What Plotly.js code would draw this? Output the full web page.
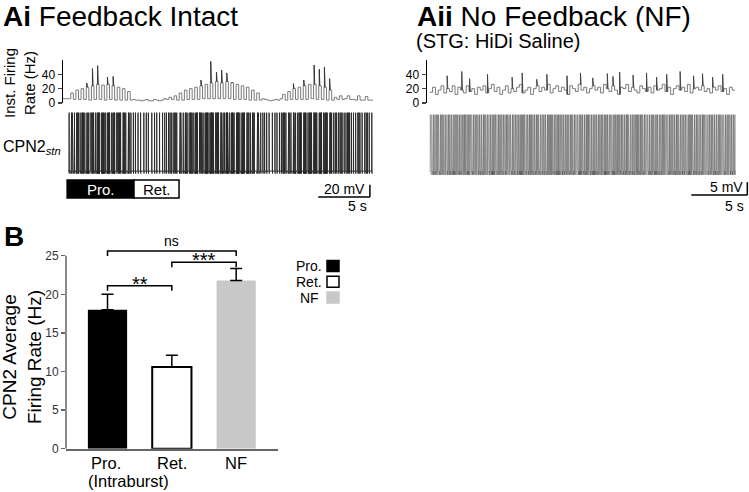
<!DOCTYPE html>
<html><head><meta charset="utf-8">
<script src="https://cdn.plot.ly/plotly-3.0.1.min.js"></script>
<style>html,body{margin:0;padding:0;background:#fff;}#chart{width:749px;height:492px;}</style>
</head><body><div id="chart"></div>
<script>
// ---------- DATA ----------
// Instantaneous firing rate (Hz), one value per 0.25 s step
const rateStep = 0.25;
const aiRateStart = 0;
const aiRate = [6, 6, 6,
  14, 5, 18, 5, 20, 5, 22, 4, 24, 5, 26, 5, 25, 4, 26, 5, 24, 4, 22, 4, 20, 4, 16, 4,
  5, 4, 4, 3, 4, 5, 3, 3, 5, 4, 3, 4, 6, 5, 8, 5,
  10, 4, 14, 4, 18, 5, 20, 5, 22, 5, 24, 6, 26, 6, 28, 6, 30, 6, 28, 6, 30, 6, 28, 5, 26, 5, 24, 5, 22, 4, 18, 4, 14, 4,
  6, 5, 4, 3, 4, 5, 4, 6,
  12, 4, 16, 5, 20, 5, 22, 5, 24, 5, 26, 6, 26, 5, 24, 5, 22, 4, 18, 4,
  8, 5, 10, 5, 6, 10, 5, 5, 4, 10, 4, 4, 9, 4, 4];
const aiPeakT  = [2.3, 2.85, 3.35, 4.3, 4.85, 13.35, 14.3, 14.85, 15.35, 15.85, 16.35, 22.3, 23.3, 24.3, 24.8, 25.3, 25.8];
const aiPeakHz = [28, 48, 52, 36, 37, 32, 58, 43, 46, 42, 29, 27, 32, 53, 47, 50, 34];

const aiiRateStart = 0.25;
const aiiRate = [15, 22, 12, 18, 24, 14, 20, 16, 24, 12, 22, 18, 14, 24, 16, 20, 12, 22, 18, 24,
  14, 20, 26, 16, 22, 12, 18, 24, 14, 20, 16, 22, 26, 14, 18, 22, 12, 20, 24,
  16, 22, 18, 26, 14, 20, 24, 16, 22, 18, 12, 24, 20, 16, 26, 18, 22, 14, 20, 24,
  18, 22, 14, 26, 20, 16, 24, 18, 12, 22, 20, 26, 16, 22, 18, 14, 24, 20, 16, 22,
  14, 24, 18, 20, 26, 16, 22, 12, 20, 24, 18, 22, 16, 26, 14, 20, 22, 18, 24, 16,
  20, 14, 22, 18, 24, 16, 20, 12, 22, 18];
const aiiPeakT  = [1.8, 3.1, 3.8, 5.4, 7.6, 8.5, 9.8, 10.7, 12.5, 13.7, 14.8, 16.1, 16.6, 17.2, 18.4, 19.6, 20.5, 21.4, 22.6, 23.8, 24.6, 25.5, 26.4];
const aiiPeakHz = [38, 44, 34, 40, 36, 42, 33, 40, 38, 42, 35, 41, 37, 43, 39, 42, 36, 40, 44, 38, 41, 36, 40];

// Protraction / retraction phase bar (s)
const phaseNames = ['Pro.', 'Ret.'];
const phaseStart = [0.4, 6.87];
const phaseEnd   = [6.87, 11.23];

// Panel B
const barCats = ['Pro.', 'Ret.', 'NF'];
const barNote = '(Intraburst)';
const barMean = [18.0, 10.6, 21.8];
const barSem  = [2.0, 1.5, 1.55];
const sigFrom = [0, 1, 0];
const sigTo   = [2, 2, 1];
const sigY    = [25.6, 24.15, 21.1];
const sigText = ['ns', '***', '**'];
const legendNames = ['Pro.', 'Ret.', 'NF'];

// ---------- HELPERS ----------
const FONT = 'Arial, "Liberation Sans", sans-serif';
const W = 749, H = 492;
const px = x => x / W, py = y => 1 - y / H;

function stepXY(rate, t0, dt) {
  const x = [], y = [];
  rate.forEach((r, i) => { x.push(t0 + i * dt); y.push(r); });
  x.push(t0 + rate.length * dt); y.push(rate[rate.length - 1]);
  return {x, y};
}
function rateAt(rate, t0, dt, t) {
  return rate[Math.min(rate.length - 1, Math.max(0, Math.floor((t - t0) / dt)))];
}
function peaksXY(pt, ph, rate, t0, dt) {
  const x = [], y = [];
  pt.forEach((t, i) => {
    const b = rateAt(rate, t0, dt, t);
    x.push(t, t, t + 0.06, null); y.push(b, ph[i], b, null);
  });
  return {x, y};
}
// spike times implied by the instantaneous rate (1/ISI)
function spikesFromRate(rate, t0, dt) {
  const times = []; let phase = 0.5;
  rate.forEach((r, i) => {
    const n0 = phase; phase += r * dt;
    for (let k = Math.ceil(n0); k < phase; k++) times.push(t0 + i * dt + (k - n0) / r);
  });
  return times;
}
function voltageXY(spikes, tS, tE, base, peak, under) {
  const s = spikes.filter(t => t >= tS && t <= tE);
  const x = [s[0] - 0.1], y = [base];
  s.forEach(t => {
    x.push(t, t + 0.01, t + 0.025, t + 0.045); y.push(base, peak, under, base);
  });
  x.push(Math.min(tE, s[s.length - 1] + 0.1)); y.push(base);
  return {x, y};
}

// ---------- TRACES ----------
const aiStep = stepXY(aiRate, aiRateStart, rateStep);
const aiPk = peaksXY(aiPeakT, aiPeakHz, aiRate, aiRateStart, rateStep);
const aiV = voltageXY(spikesFromRate(aiRate, aiRateStart, rateStep), 0.5, 29.9, -60, 35, -64);
const aiiStep = stepXY(aiiRate, aiiRateStart, rateStep);
const aiiPk = peaksXY(aiiPeakT, aiiPeakHz, aiiRate, aiiRateStart, rateStep);
const aiiV = voltageXY(spikesFromRate(aiiRate, aiiRateStart, rateStep), 0.0, 28.6, -48, -26.2, -49.5);

const traces = [
  {x: aiStep.x, y: aiStep.y, xaxis: 'x', yaxis: 'y', type: 'scatter', mode: 'lines', line: {shape: 'hv', color: '#7a7a7a', width: 1}, hoverinfo: 'skip'},
  {x: aiPk.x, y: aiPk.y, xaxis: 'x', yaxis: 'y', type: 'scatter', mode: 'lines', line: {color: '#333', width: 1}, hoverinfo: 'skip'},
  {x: aiV.x, y: aiV.y, xaxis: 'x', yaxis: 'y2', type: 'scatter', mode: 'lines', line: {color: '#262626', width: 0.9}, hoverinfo: 'skip'},
  {x: aiiStep.x, y: aiiStep.y, xaxis: 'x3', yaxis: 'y3', type: 'scatter', mode: 'lines', line: {shape: 'hv', color: '#7a7a7a', width: 1}, hoverinfo: 'skip'},
  {x: aiiPk.x, y: aiiPk.y, xaxis: 'x3', yaxis: 'y3', type: 'scatter', mode: 'lines', line: {color: '#444', width: 1}, hoverinfo: 'skip'},
  {x: aiiV.x, y: aiiV.y, xaxis: 'x3', yaxis: 'y4', type: 'scatter', mode: 'lines', line: {color: '#555', width: 0.45}, hoverinfo: 'skip'},
  {type: 'bar', x: [0, 1, 2], y: barMean, width: 0.61, xaxis: 'x5', yaxis: 'y5',
   marker: {color: ['#000000', '#ffffff', '#c8c8c8'], line: {color: '#000', width: [0, 2, 0]}},
   error_y: {type: 'data', symmetric: false, array: barSem, arrayminus: [0, 0, 0], color: '#000', thickness: 1.5, width: 6}}
];
// significance brackets
const bx = [], by = [];
sigFrom.forEach((a, i) => {
  const b = sigTo[i], y = sigY[i];
  bx.push(a, a, b, b, null); by.push(y - 0.65, y, y, y - 0.65, null);
});
traces.push({x: bx, y: by, xaxis: 'x5', yaxis: 'y5', type: 'scatter', mode: 'lines', line: {color: '#000', width: 1.5}, hoverinfo: 'skip'});

// ---------- LAYOUT ----------
const hidden = {visible: false, fixedrange: true};
const rateAxis = (dom, anchor) => ({domain: dom, anchor: anchor, range: [0, 60], tickvals: [0, 20, 40], ticks: 'outside', ticklen: 4, tickwidth: 1.5,
  showline: true, linewidth: 1.5, linecolor: '#000', showgrid: false, zeroline: false, tickfont: {size: 12, color: '#000'}, fixedrange: true});
const layout = {
  width: W, height: H, autosize: false, showlegend: false,
  margin: {l: 0, r: 0, t: 0, b: 0}, paper_bgcolor: '#fff', plot_bgcolor: 'rgba(0,0,0,0)',
  font: {family: FONT, color: '#000'},
  xaxis: Object.assign({domain: [px(63), px(373)], range: [0, 30], anchor: 'y'}, hidden),
  yaxis: rateAxis([py(103), py(60)], 'x'),
  yaxis2: Object.assign({domain: [py(200), py(111)], range: [-107, 37.7], anchor: 'x'}, hidden),
  xaxis3: Object.assign({domain: [px(427), px(749)], range: [0, 28.75], anchor: 'y3'}, hidden),
  yaxis3: rateAxis([py(103), py(60)], 'x3'),
  yaxis4: Object.assign({domain: [py(200), py(111)], range: [-59.2, -24.8], anchor: 'x3'}, hidden),
  xaxis5: {domain: [px(66), px(278)], anchor: 'y5', range: [-0.645, 2.65], tickvals: [0, 1, 2], showticklabels: false,
    showline: true, linecolor: '#666', linewidth: 2, ticks: '', showgrid: false, zeroline: false, fixedrange: true},
  yaxis5: {domain: [py(448.7), py(240.3)], anchor: 'x5', range: [0, 27], tickvals: [0, 5, 10, 15, 20, 25],
    ticks: 'outside', ticklen: 4, tickwidth: 1.5, tickcolor: '#666', showline: false, showgrid: false, zeroline: false,
    tickfont: {size: 12, color: '#333'}, fixedrange: true},
  shapes: [],
  annotations: []
};
const S = layout.shapes, A = layout.annotations;
// y axis line of B (up to 25 only)
S.push({type: 'line', xref: 'paper', yref: 'y5', x0: px(66), x1: px(66), y0: 0, y1: 25, line: {color: '#666', width: 1.5}});
// phase bar
phaseNames.forEach((n, i) => {
  S.push({type: 'rect', xref: 'x', yref: 'paper', x0: phaseStart[i], x1: phaseEnd[i], y0: py(198), y1: py(180),
    fillcolor: i === 0 ? '#000' : '#fff', line: {color: '#000', width: 1.5}});
  A.push({xref: 'x', yref: 'paper', x: (phaseStart[i] + phaseEnd[i]) / 2, y: py(189), text: n, showarrow: false,
    font: {size: 15, color: i === 0 ? '#fff' : '#000'}, xanchor: 'center', yanchor: 'middle'});
});
// scale bars
S.push({type: 'line', xref: 'x', yref: 'y2', x0: 24.7, x1: 29.7, y0: -102.2, y1: -102.2, line: {color: '#000', width: 1.5}});
S.push({type: 'line', xref: 'x', yref: 'y2', x0: 29.7, x1: 29.7, y0: -102.2, y1: -82.2, line: {color: '#000', width: 1.5}});
S.push({type: 'line', xref: 'x3', yref: 'y4', x0: 23.6, x1: 28.6, y0: -57.3, y1: -57.3, line: {color: '#000', width: 1.5}});
S.push({type: 'line', xref: 'x3', yref: 'y4', x0: 28.6, x1: 28.6, y0: -57.3, y1: -52.3, line: {color: '#000', width: 1.5}});
const txt = (x, y, text, size, xa, extra) => A.push(Object.assign({xref: 'paper', yref: 'paper', x: px(x), y: py(y), text: text,
  showarrow: false, font: {size: size, color: '#000', family: FONT}, xanchor: xa || 'left', yanchor: 'middle'}, extra || {}));
txt(367, 189, '20 mV', 14, 'right');
txt(369, 206, '5 s', 14, 'right');
txt(745, 187, '5 mV', 14, 'right');
txt(746, 206, '5 s', 14, 'right');
// titles
txt(1, 17, '<b>Ai</b> Feedback Intact', 28, 'left');
txt(415, 17, '<b>Aii</b> No Feedback (NF)', 28, 'left');
txt(414, 41, '(STG: HiDi Saline)', 20, 'left');
txt(19, 83, 'Inst. Firing<br>Rate (Hz)', 15, 'center', {textangle: -90});
txt(1, 147, 'CPN2<sub><i>stn</i></sub>', 16, 'left');
txt(2, 236, '<b>B</b>', 28, 'left');
txt(22, 357, 'CPN2 Average<br>Firing Rate (Hz)', 19, 'center', {textangle: -90});
// category labels of B
barCats.forEach((c, i) => {
  A.push({xref: 'x5', yref: 'paper', x: i, y: py(463), text: c, showarrow: false, xshift: i === 0 ? -2 : 0, borderpad: 0,
    font: {size: 16.5, color: '#000', family: FONT}, xanchor: 'center', yanchor: 'middle'});
});
A.push({xref: 'paper', yref: 'paper', x: px(87), y: py(481), text: barNote, showarrow: false, borderpad: 0,
  font: {size: 16.5, color: '#000', family: FONT}, xanchor: 'left', yanchor: 'middle'});
// significance labels
sigText.forEach((t, i) => {
  A.push({xref: 'x5', yref: 'y5', x: (sigFrom[i] + sigTo[i]) / 2, y: sigY[i], text: t, showarrow: false,
    font: {size: t === 'ns' ? 14 : 20, color: '#000', family: FONT}, xanchor: 'center', yanchor: 'bottom', yshift: t === 'ns' ? 0 : -11});
});
// legend for B
const legFill = ['#000', '#fff', '#c8c8c8'];
const legLine = ['#000', '#000', '#c8c8c8'];
legendNames.forEach((n, i) => {
  const yc = 266 + i * 15.8;
  S.push({type: 'rect', xref: 'paper', yref: 'paper', x0: px(327), x1: px(339), y0: py(yc + 5.5), y1: py(yc - 5.5),
    fillcolor: legFill[i], line: {color: legLine[i], width: 1.5}});
  txt(i === 2 ? 298 : 324, yc, n, 14, i === 2 ? 'left' : 'right');
});

Plotly.newPlot('chart', traces, layout, {displayModeBar: false, staticPlot: true});
</script></body></html>
